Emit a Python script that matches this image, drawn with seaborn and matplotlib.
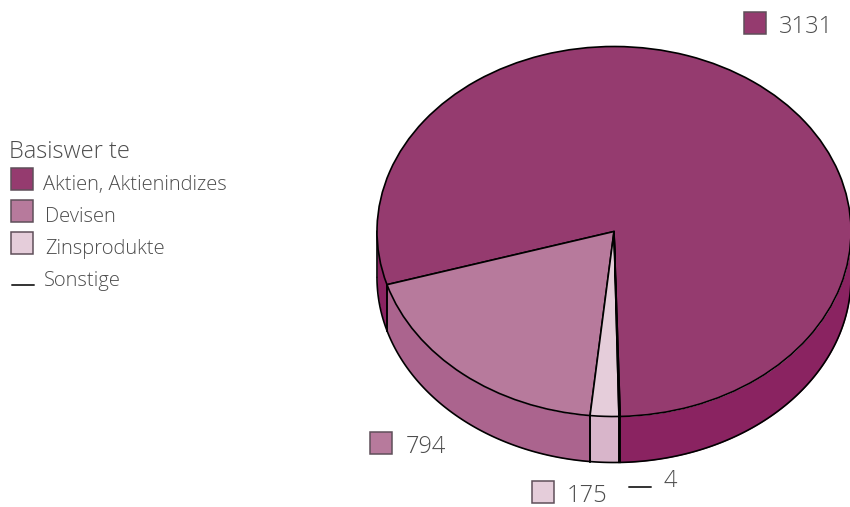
import numpy as np
import matplotlib
matplotlib.use('Agg')
import matplotlib.pyplot as plt
from matplotlib.patches import Rectangle
import seaborn as sns

# --- Data ---
categories = ['Aktien, Aktienindizes', 'Devisen', 'Zinsprodukte', 'Sonstige']
values = [3131, 794, 175, 4]
# the slices in the original are not quite proportional, so these are read off the picture (degrees)
drawn_angles = [285.2, 67.5, 7.0, 0.3]
legend_title = 'Basiswer te'

top_colors = ['#953b6f', '#b77a9c', '#e5cdda', '#e5cdda']
wall_colors = ['#8a2361', '#ab648e', '#d8b5ca', '#d8b5ca']
text_color = '#4d4d4d'
box_edge = '#5f4f5a'

W, H = 850, 507
start_angle = 271.5
depth = 46 / 185  # wall height in pie units

sns.set_theme(style='white')
plt.rcParams['font.family'] = ['Open Sans', 'DejaVu Sans']
fig = plt.figure(figsize=(W / 100, H / 100), dpi=100)

# --- Pie, squashed into an ellipse by the axes shape ---
ax = fig.add_axes([377 / W, (H - 416.5) / H, 474 / W, 370 / H])
wedges, _ = ax.pie(drawn_angles, colors=sns.color_palette(top_colors), startangle=start_angle,
                   counterclock=True, radius=1,
                   wedgeprops={'edgecolor': 'black', 'linewidth': 1.2})
ax.set_aspect('auto')
ax.set_xlim(-1, 1)
ax.set_ylim(-1, 1)
for w in wedges:
    w.set_clip_on(False)
    w.set_zorder(3)

# side wall, only the front half of the circle shows
edges = start_angle + np.concatenate([[0], np.cumsum(drawn_angles)])
for i in range(len(values)):
    for k in (0, 1):
        lo = max(edges[i], 180 + 360 * k)
        hi = min(edges[i + 1], 360 + 360 * k)
        if hi <= lo:
            continue
        t = np.radians(np.linspace(lo, hi, 120))
        x, y = np.cos(t), np.sin(t)
        ax.fill_between(x, y, y - depth, color=wall_colors[i], lw=0, clip_on=False, zorder=1)
        ax.plot(x, y - depth, color='black', lw=1.2, clip_on=False, zorder=2)
        for a in (lo, hi):
            xa, ya = np.cos(np.radians(a)), np.sin(np.radians(a))
            ax.plot([xa, xa], [ya, ya - depth], color='black', lw=1.2, clip_on=False, zorder=2)

# --- Overlay in pixel coordinates for legend and value labels ---
ov = fig.add_axes([0, 0, 1, 1])
ov.set_xlim(0, W)
ov.set_ylim(H, 0)
ov.axis('off')
ov.patch.set_alpha(0)


def swatch(ax_, x, y, color):
    ax_.add_patch(Rectangle((x, y), 22, 22, facecolor=color, edgecolor=box_edge, lw=1.1))


def label(x, y, s, size=14.5):
    ov.text(x, y, s, fontsize=size, fontweight=300, color=text_color, va='center', ha='left')


label(9, 152, legend_title, size=17)
legend_boxes = [(11, 168), (11, 200), (11, 232)]
legend_text_x = [43, 45, 45, 44]
legend_text_y = [185, 217, 249, 281]
for i, (bx, by) in enumerate(legend_boxes):
    swatch(ov, bx, by, top_colors[i])
ov.plot([12, 34], [285, 285], color='#333333', lw=1.4)
for i, name in enumerate(categories):
    label(legend_text_x[i], legend_text_y[i], name)

# value labels next to the pie
value_boxes = [(744, 12), (370, 432), (532, 481)]
value_text = [(779, 27), (406, 447), (567, 496)]
for i, (bx, by) in enumerate(value_boxes):
    swatch(ov, bx, by, top_colors[i])
    label(value_text[i][0], value_text[i][1], str(values[i]), size=17)
ov.plot([629, 651], [487, 487], color='#333333', lw=1.4)
label(664, 481, str(values[3]), size=17)

fig.savefig('out.png', dpi=100)
